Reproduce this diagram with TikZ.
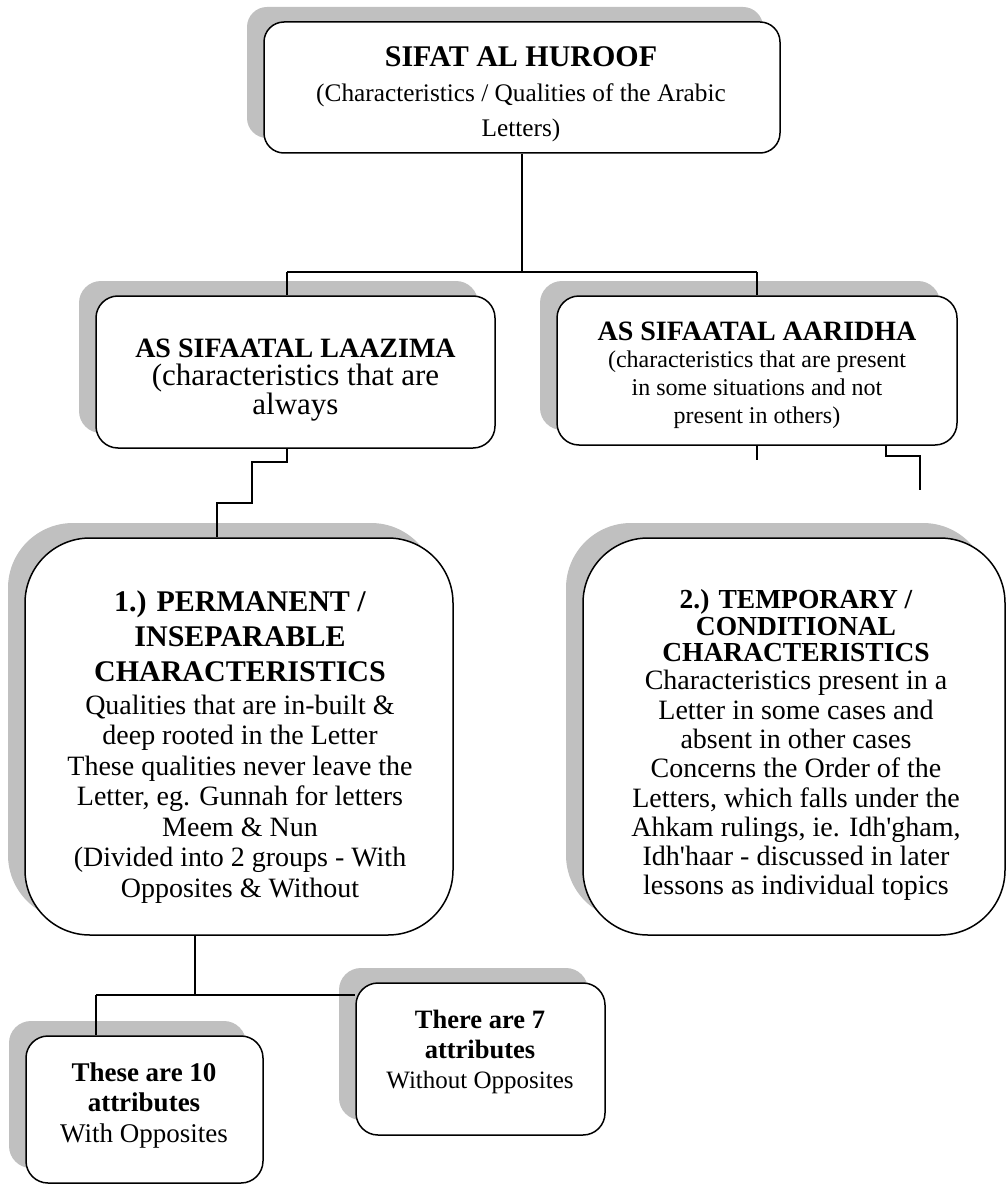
\documentclass[tikz,border=0pt]{standalone}
\usepackage{fontspec}
\setmainfont{Liberation Serif}[Ligatures=TeXOff]
\usetikzlibrary{shadows}
\definecolor{shadegray}{RGB}{192,192,192}
\begin{document}
\begin{tikzpicture}[x=1pt,y=-1pt,
  box/.style={draw, line width=1.5pt, fill=white, inner sep=0pt,
    general shadow={fill=shadegray, shadow xshift=-17pt, shadow yshift=15pt}},
  wire/.style={line width=1.3pt},
  txt/.style={align=center, inner sep=0pt}]
\useasboundingbox (0,0) rectangle (1008,1185);

% boxes
\node[box, rounded corners=20pt, minimum width=516pt, minimum height=131pt] (top) at (522,87.5) {};
\node[box, rounded corners=22pt, minimum width=399pt, minimum height=152pt] (laz) at (295.5,372) {};
\node[box, rounded corners=22pt, minimum width=400pt, minimum height=149pt] (aar) at (757,370.5) {};
\node[box, rounded corners=65pt, minimum width=428pt, minimum height=397pt] (perm) at (239,736.5) {};
\node[box, rounded corners=65pt, minimum width=422pt, minimum height=397pt] (temp) at (794,736.5) {};
\node[box, rounded corners=22pt, minimum width=237pt, minimum height=147pt] (ten) at (144.5,1109.5) {};
\node[box, rounded corners=22pt, minimum width=249pt, minimum height=152pt] (seven) at (480.5,1059) {};

% texts
\node[txt, font=\fontsize{25.3}{35}\selectfont] (toptxt) at (521,94)
  {{\fontsize{30}{35}\selectfont\bfseries SIFAT AL HUROOF}\\(Characteristics / Qualities of the Arabic\\Letters)};
\node[txt, font=\fontsize{31}{28}\selectfont] (laztxt) at (295.5,380)
  {{\fontsize{28}{28}\selectfont\bfseries AS SIFAATAL LAAZIMA}\\(characteristics that are\\always};
\node[txt, font=\fontsize{24}{27.7}\selectfont] (aartxt) at (757,375)
  {{\fontsize{28}{28}\selectfont\bfseries AS SIFAATAL AARIDHA}\\(characteristics that are present\\in some situations and not\\present in others)};
\node[txt, font=\fontsize{28}{30.5}\selectfont] (permtxt) at (240,747)
  {{\fontsize{30}{30}\selectfont\bfseries 1.) PERMANENT /}\\[4.5pt]
   {\fontsize{30}{30}\selectfont\bfseries INSEPARABLE}\\[4.5pt]
   {\fontsize{30}{30}\selectfont\bfseries CHARACTERISTICS}\\[2.5pt]
   Qualities that are in-built \&\\deep rooted in the Letter\\These qualities never leave the\\
   Letter, eg. Gunnah for letters\\Meem \& Nun\\(Divided into 2 groups - With\\Opposites \& Without};
\node[txt, font=\fontsize{28}{29.3}\selectfont] (temptxt) at (796,745)
  {{\fontsize{27.5}{27.5}\selectfont\bfseries 2.) TEMPORARY /}\\[-2.5pt]
   {\fontsize{27.5}{27.5}\selectfont\bfseries CONDITIONAL}\\[-2.5pt]
   {\fontsize{27.5}{27.5}\selectfont\bfseries CHARACTERISTICS}\\[-1.3pt]
   Characteristics present in a\\Letter in some cases and\\absent in other cases\\
   Concerns the Order of the\\Letters, which falls under the\\Ahkam rulings, ie. Idh'gham,\\
   Idh'haar - discussed in later\\lessons as individual topics};
\node[txt, font=\fontsize{27}{30.5}\selectfont] (tentxt) at (144,1105)
  {{\bfseries These are 10}\\{\bfseries attributes}\\With Opposites};
\node[txt, font=\fontsize{25}{30}\selectfont] (seventxt) at (480,1052)
  {{\fontsize{26.5}{30}\selectfont\bfseries There are 7}\\{\fontsize{26.5}{30}\selectfont\bfseries attributes}\\Without Opposites};

% connectors
\coordinate (busL) at (287,272);
\coordinate (busR) at (757,272);
\draw[wire] (top.south) -- (top.south |- busL);
\draw[wire] (busL) -- (busR);
\draw[wire] (busL) -- (busL |- laz.north);
\draw[wire] (busR) -- (busR |- aar.north);

\coordinate (st1) at (287,462);
\coordinate (st2) at (252,462);
\coordinate (st3) at (252,503);
\coordinate (st4) at (217,503);
\draw[wire] (st1 |- laz.south) -- (st1) -- (st2) -- (st3) -- (st4) -- (st4 |- perm.north);

\coordinate (d1) at (757,460);
\draw[wire] (d1 |- aar.south) -- (d1);
\coordinate (d2) at (886,456);
\coordinate (d3) at (920,456);
\coordinate (d4) at (920,490);
\draw[wire] (d2 |- aar.south) -- (d2) -- (d3) -- (d4);

\coordinate (b1) at (195,995);
\coordinate (b2) at (96,995);
\draw[wire] (b1 |- perm.south) -- (b1);
\draw[wire] (b2) -- (seven.west |- b2);
\draw[wire] (b2) -- (b2 |- ten.north);
\end{tikzpicture}
\end{document}
